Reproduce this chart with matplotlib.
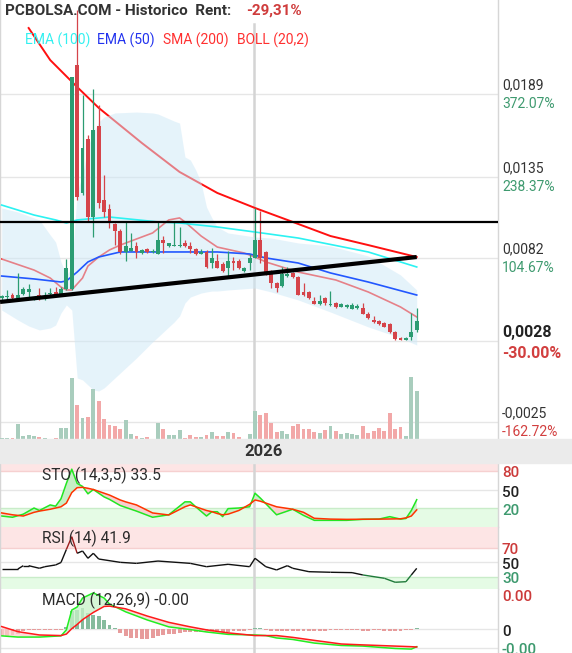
import numpy as np
import matplotlib
matplotlib.use('Agg')
import matplotlib.pyplot as plt
from matplotlib.collections import LineCollection
from matplotlib.patches import Rectangle

plt.rcParams['font.family'] = ['Roboto', 'DejaVu Sans']

# ---------------- price candles (one per session) ----------------
opens = np.array([0.00561, 0.00567, 0.00580, 0.00561, 0.00587, 0.00600, 0.00561, 0.00580, 0.00567, 0.00587,
                  0.00600, 0.00587, 0.00619, 0.00619, 0.02081, 0.01246, 0.01598, 0.01089, 0.01683, 0.01200,
                  0.01141, 0.01043, 0.00998, 0.00861, 0.00867, 0.00900, 0.00854, 0.00880, 0.00861, 0.00848,
                  0.00939, 0.00900, 0.00900, 0.00900, 0.00920, 0.00900, 0.00880, 0.00848, 0.00861, 0.00789,
                  0.00802, 0.00783, 0.00756, 0.00802, 0.00802, 0.00737, 0.00789, 0.00822, 0.00939, 0.00861,
                  0.00737, 0.00659, 0.00639, 0.00704, 0.00724, 0.00698, 0.00600, 0.00600, 0.00541, 0.00522,
                  0.00561, 0.00515, 0.00528, 0.00502, 0.00502, 0.00489, 0.00495, 0.00495, 0.00456, 0.00417,
                  0.00411, 0.00398, 0.00391, 0.00339, 0.00300, 0.00287, 0.00306, 0.00352])
highs = np.array([0.00580, 0.00613, 0.00593, 0.00724, 0.00632, 0.00652, 0.00567, 0.00626, 0.00600, 0.00626,
                  0.00632, 0.00632, 0.00815, 0.02003, 0.02440, 0.01885, 0.01624, 0.01924, 0.01820, 0.01363,
                  0.01174, 0.01050, 0.01011, 0.01057, 0.00985, 0.00926, 0.00880, 0.00887, 0.00880, 0.01057,
                  0.00965, 0.00920, 0.01057, 0.01024, 0.00939, 0.00926, 0.00887, 0.00880, 0.00874, 0.00887,
                  0.00848, 0.00796, 0.00867, 0.00828, 0.00815, 0.00763, 0.00848, 0.01148, 0.01128, 0.00867,
                  0.00743, 0.00665, 0.00763, 0.00763, 0.00730, 0.00704, 0.00659, 0.00606, 0.00567, 0.00580,
                  0.00567, 0.00606, 0.00535, 0.00528, 0.00522, 0.00528, 0.00522, 0.00528, 0.00469, 0.00443,
                  0.00417, 0.00404, 0.00398, 0.00345, 0.00306, 0.00306, 0.00463, 0.00495])
lows = np.array([0.00548, 0.00535, 0.00548, 0.00548, 0.00580, 0.00567, 0.00548, 0.00548, 0.00548, 0.00574,
                 0.00574, 0.00587, 0.00613, 0.00613, 0.01200, 0.01233, 0.01057, 0.00959, 0.01148, 0.01089,
                 0.01017, 0.00906, 0.00848, 0.00802, 0.00867, 0.00822, 0.00848, 0.00854, 0.00854, 0.00848,
                 0.00854, 0.00893, 0.00900, 0.00893, 0.00893, 0.00854, 0.00841, 0.00848, 0.00756, 0.00756,
                 0.00756, 0.00730, 0.00698, 0.00743, 0.00750, 0.00730, 0.00743, 0.00822, 0.00789, 0.00711,
                 0.00626, 0.00600, 0.00632, 0.00698, 0.00691, 0.00580, 0.00574, 0.00554, 0.00522, 0.00515,
                 0.00515, 0.00509, 0.00495, 0.00502, 0.00495, 0.00489, 0.00489, 0.00456, 0.00424, 0.00398,
                 0.00385, 0.00372, 0.00332, 0.00287, 0.00287, 0.00287, 0.00287, 0.00339])
closes = np.array([0.00574, 0.00574, 0.00561, 0.00580, 0.00619, 0.00619, 0.00567, 0.00561, 0.00574, 0.00593,
                   0.00587, 0.00619, 0.00756, 0.02003, 0.01220, 0.01539, 0.01089, 0.01657, 0.01180, 0.01122,
                   0.01057, 0.00998, 0.00861, 0.00900, 0.00887, 0.00861, 0.00874, 0.00861, 0.00867, 0.00939,
                   0.00920, 0.00920, 0.00906, 0.00906, 0.00900, 0.00880, 0.00848, 0.00861, 0.00763, 0.00822,
                   0.00756, 0.00737, 0.00802, 0.00789, 0.00756, 0.00756, 0.00822, 0.00939, 0.00822, 0.00724,
                   0.00659, 0.00626, 0.00717, 0.00717, 0.00698, 0.00580, 0.00580, 0.00561, 0.00522, 0.00541,
                   0.00528, 0.00522, 0.00502, 0.00522, 0.00515, 0.00515, 0.00509, 0.00456, 0.00430, 0.00404,
                   0.00391, 0.00372, 0.00339, 0.00293, 0.00287, 0.00300, 0.00339, 0.00411])
volume = np.array([2, 3, 3, 45, 9, 12, 9, 6, 3, 1,
                   3, 33, 33, 184, 102, 63, 66, 150, 114, 60,
                   42, 39, 30, 57, 15, 9, 3, 6, 0, 48,
                   30, 12, 12, 27, 3, 12, 6, 6, 12, 21,
                   9, 9, 21, 18, 6, 0, 15, 84, 72, 78,
                   48, 21, 24, 15, 39, 45, 30, 30, 21, 18,
                   27, 39, 24, 15, 18, 15, 12, 39, 18, 24,
                   33, 24, 78, 30, 36, 9, 186, 144])
year_start = 46.8          # first session of 2026
year_label = '2026'

# ---------------- overlays ----------------
sma200_idx = [5, 9, 14, 18, 26, 33, 40, 47, 53, 61, 68, 77]
sma200 = [0.02322, 0.02113, 0.01937, 0.01801, 0.01572, 0.01383, 0.01246, 0.01148, 0.01070, 0.00965, 0.00906, 0.00828]

ema100_idx = [0, 6, 10, 12, 14, 20, 29, 33, 40, 47, 55, 68, 77]
ema100 = [0.01167, 0.01102, 0.01070, 0.01050, 0.01070, 0.01089, 0.01057, 0.01050, 0.01024, 0.00991, 0.00952, 0.00861, 0.00763]

ema50_idx = [0, 6, 11, 12, 14, 16, 18, 22, 31, 40, 46, 49, 55, 61, 68, 77]
ema50 = [0.00704, 0.00685, 0.00665, 0.00672, 0.00730, 0.00796, 0.00828, 0.00861, 0.00861, 0.00861, 0.00848, 0.00822,
         0.00789, 0.00724, 0.00665, 0.00580]

boll_mid_idx = [0, 6, 9, 11, 12, 13, 15, 16, 18, 20, 22, 28, 31, 33, 34, 37, 40, 45, 47, 49, 55, 62, 68, 74, 77]
boll_mid = [0.00815, 0.00743, 0.00691, 0.00632, 0.00613, 0.00613, 0.00691, 0.00769, 0.00828, 0.00874, 0.00906, 0.00985,
            0.01070, 0.01083, 0.01057, 0.00965, 0.00893, 0.00854, 0.00828, 0.00796, 0.00730, 0.00678, 0.00600, 0.00502, 0.00437]

band_idx = [0, 3, 5, 7, 9, 10, 11, 12, 13, 14, 15, 16, 17, 18, 19, 21, 25, 28, 29, 32, 33, 34, 35, 36, 37, 38,
            39, 40, 42, 47, 50, 55, 61, 68, 74, 77]
band_upper = [0.01148, 0.01122, 0.01096, 0.01070, 0.00972, 0.00926, 0.00796, 0.00711, 0.00756, 0.01252, 0.01363,
              0.01546, 0.01644, 0.01709, 0.01742, 0.01768, 0.01774, 0.01768, 0.01761, 0.01715, 0.01702, 0.01481,
              0.01461, 0.01396, 0.01311, 0.01154, 0.01083, 0.01024, 0.00985, 0.00959, 0.00952, 0.00920, 0.00900,
              0.00835, 0.00711, 0.00613]
band_lower = [0.00482, 0.00417, 0.00378, 0.00352, 0.00365, 0.00384, 0.00463, 0.00515, 0.00482, 0.00039, 0.00026,
              -0.00007, -0.00039, -0.00046, -0.00026, 0.00039, 0.00169, 0.00274, 0.00306, 0.00404, 0.00443, 0.00528,
              0.00567, 0.00580, 0.00593, 0.00600, 0.00606, 0.00606, 0.00613, 0.00626, 0.00600, 0.00548, 0.00469,
              0.00372, 0.00300, 0.00254]

# hand drawn trend lines
resistance = 0.01057
support_x = [-0.3, 77]
support_y = [0.00535, 0.00828]

# right scale
grid_prices = [0.0189, 0.0135, 0.0082, 0.0028, -0.0025]
grid_labels = ['0,0189', '0,0135', '0,0082', '0,0028', '-0,0025']
grid_pcts = ['372.07%', '238.37%', '104.67%', '-30.00%', '-162.72%']

# ---------------- oscillators ----------------
sto_idx = [0, 2, 4, 6, 7, 9, 10, 11, 12, 13, 14, 15, 16, 17, 19, 20, 22, 23, 25, 28, 31, 34, 35, 36, 38, 39, 40,
           41, 42, 44, 46, 47, 48, 50, 51, 54, 56, 58, 61, 64, 67, 70, 72, 74, 75, 76, 77]
sto_k = [7, 5, 10, 20, 16, 25, 23, 35, 60, 83, 60, 55, 43, 50, 38, 34, 24, 21, 15, 5, 9, 30, 30, 22, 7, 14, 14,
         6, 19, 20, 22, 44, 36, 18, 9, 18, 8, 0, 0, 0, 1.6, 2, 6, 2, 3, 16, 33.5]
sto_d = [12, 9, 7, 13, 15, 18, 20, 22, 28, 45, 53, 53.5, 52, 50, 44, 41, 33, 30, 25, 12, 8.7, 22, 25, 22, 16, 14,
         11, 9, 10, 16, 26, 33, 31, 25, 22, 18, 13, 3.3, 2, 1.6, 1.8, 2, 2.2, 2.5, 4, 7, 17]

rsi_idx = [0, 3, 4, 5, 7, 8, 10, 11, 12, 13, 14, 15, 16, 17, 18, 22, 25, 29, 35, 38, 42, 46, 47, 49, 51, 53, 54,
           57, 61, 65, 67, 71, 73, 75, 76, 77]
rsi = [41, 41, 45.6, 45.6, 42, 44.2, 46.6, 50, 68, 85.6, 62.7, 65.9, 55.8, 62.7, 54.8, 50.2, 48.8, 52, 48.8, 44.2,
       47.5, 44.2, 55.8, 44.2, 39.7, 45.6, 42, 37.3, 36.5, 36, 32.8, 28.2, 22.7, 23.5, 32.8, 41.9]

# MACD values in units of 1e-5
macd_idx = [0, 3, 7, 11, 12, 13, 14, 15, 17, 19, 20, 23, 27, 31, 35, 38, 42, 47, 49, 51, 54, 58, 63, 67, 73, 76, 77]
macd_line = [-23, -27, -27, -23, -3, 63, 73, 103, 120, 103, 83, 57, 30, 7, -2, -10, -18, -20, -22, -30, -35, -47,
             -55, -57, -65, -67, -59]
macd_signal = [8, -9, -20, -22, -17, 1, 15, 31, 55, 75, 76, 67, 43, 22, 7, -3, -13, -22, -22, -22, -28, -38, -50,
               -53, -57, -59, -60]
macd_hist = [-23, -23, -20, -17, -7, -5, -4, -4, -4, -4, -4, -3, 7, 59, 64, 70, 53, 48, 42, 31,
             14, 3, -13, -24, -30, -30, -32, -32, -30, -24, -19, -17, -16, -13, -11, -10, -10, -10, -11, -11,
             -10, -10, -9, -8, -7, -6, -4, 3, 2, -3, -6, -7, -7, -6, -6, -7, -8, -8, -7, -6,
             -6, -4, -4, -3, -3, -3, -4, -6, -6, -4, -4, -6, -7, -7, -6, -4, -2, 3]

# ---------------- styling ----------------
GREEN = '#2b9c72'
RED = '#d5444a'
GRID = '#e6e6e6'
AXLINE = '#d6d6d6'
W, H = 572, 653
XLIM = (-0.315, 92.08)


def box(top, bottom, left=0, right=498):
    return [left / W, 1 - bottom / H, (right - left) / W, (bottom - top) / H]


def clean(axis):
    axis.set_xlim(*XLIM)
    axis.set_xticks([])
    axis.set_yticks([])
    for side in ('top', 'bottom'):
        axis.spines[side].set_visible(False)
    for side in ('left', 'right'):
        axis.spines[side].set_color(AXLINE)
        axis.spines[side].set_linewidth(1.0)


def right_label(axis, y, text, color, size=10, weight='normal', dy=0, va='baseline'):
    axis.annotate(text, xy=(1, y), xycoords=axis.get_yaxis_transform(), xytext=(4, dy),
                  textcoords='offset pixels', color=color, fontsize=size, fontweight=weight,
                  va=va, ha='left', annotation_clip=False)


fig = plt.figure(figsize=(W / 100, H / 100), dpi=100)
fig.patch.set_facecolor('white')

# ---------------- main price panel ----------------
ax = fig.add_axes(box(0, 439))
clean(ax)
ax.set_ylim(-0.003592, 0.025048)
idx = np.arange(len(closes))
up = closes >= opens
col = np.where(up, GREEN, RED)

for p in grid_prices:
    ax.axhline(p, color=GRID, lw=1, zorder=0)
ax.axvline(year_start, ymax=1 - 24 / 439, color='#d4d4d4', lw=1.8, zorder=0.5)

ax.plot(sma200_idx, sma200, color='#ff1010', lw=1.4, zorder=1)
ax.plot(boll_mid_idx, boll_mid, color='#ff1a1a', lw=1.2, zorder=1)
ax.fill_between(band_idx, band_lower, band_upper, color='#cde8f7', alpha=0.5, lw=0, zorder=2)
ax.plot(ema100_idx, ema100, color='#2cf2f2', lw=1.2, zorder=3)
ax.plot(ema50_idx, ema50, color='#2257ff', lw=1.2, zorder=3)

ax.vlines(idx, lows, highs, colors=col, lw=0.9, zorder=4)
body_lo = np.minimum(opens, closes)
body_h = np.maximum(np.abs(closes - opens), 0.00006)
ax.bar(idx, body_h, bottom=body_lo, width=0.72, color=col, lw=0, zorder=4)

ax.axhline(resistance, color='black', lw=1.6, zorder=5)
ax.plot(support_x, support_y, color='black', lw=3.0, solid_capstyle='butt', zorder=5)

for p, lab, pct in zip(grid_prices, grid_labels, grid_pcts):
    strong = lab == '0,0028'
    pct_col = '#d23f3f' if pct.startswith('-') else '#3e9a6f'
    if strong:
        right_label(ax, p, lab, '#222222', size=11.5, weight='bold', dy=4)
        right_label(ax, p, pct, pct_col, size=11.5, weight='bold', dy=-17)
    else:
        right_label(ax, p, lab, '#333333', size=10, dy=5)
        right_label(ax, p, pct, pct_col, size=10, dy=-14)

axv = ax.twinx()
axv.set_xlim(*XLIM)
axv.set_ylim(0, 1317)
axv.bar(idx, volume, width=0.72, color=np.where(up, '#a9cdbd', '#f2a8a8'), lw=0)
axv.axis('off')

# header
fig.text(5 / W, 1 - 11 / H, 'PCBOLSA.COM - Historico  Rent:', fontsize=11, fontweight='bold',
         color='#333333', va='center')
fig.text(246 / W, 1 - 11 / H, '-29,31%', fontsize=11, fontweight='bold', color='#cf3c3c', va='center')
for x, txt, c in [(25, 'EMA (100)', '#33f0f0'), (97, 'EMA (50)', '#2233ee'),
                  (163, 'SMA (200)', '#ff3030'), (237, 'BOLL (20,2)', '#ff3030')]:
    fig.text(x / W, 1 - 40 / H, txt, fontsize=10, color=c, va='center')

# date strip
fig.patches.append(Rectangle((0, 1 - 463 / H), 1, 24 / H, transform=fig.transFigure,
                             color='#ebebeb', zorder=0))
fig.text((1.7 + 5.39 * 48.5) / W, 1 - 451 / H, year_label, fontsize=12, fontweight='bold',
         color='#333333', ha='center', va='center')

# ---------------- stochastic ----------------
axs = fig.add_axes(box(463, 527))
clean(axs)
axs.set_ylim(-10.8, 93)
axs.axhspan(80, 93, color='#fde5e5', lw=0, zorder=0)
axs.axhspan(-10.8, 20, color='#e5fbe5', lw=0, zorder=0)
axs.axhline(80, color='#f6d0d0', lw=1, zorder=0.2)
axs.axhline(50, color=GRID, lw=1, zorder=0.2)
axs.axhline(20, color='#c9ecc9', lw=1, zorder=0.2)
axs.axvline(year_start, color='#d4d4d4', lw=1.8, zorder=0.5)
k = np.array(sto_k)
d = np.array(sto_d)
axs.fill_between(sto_idx, k, d, where=k >= d, interpolate=True, color='#c6efc6', lw=0, zorder=1)
axs.fill_between(sto_idx, k, d, where=k < d, interpolate=True, color='#f7cfcf', lw=0, zorder=1)
axs.plot(sto_idx, k, color='#22e622', lw=1.1, zorder=2)
axs.plot(sto_idx, d, color='#ff3300', lw=1.1, zorder=3)
right_label(axs, 80, '80', '#cc3b3b', size=11, weight='medium', dy=-2, va='center')
right_label(axs, 50, '50', '#222222', size=11, weight='medium', dy=-3, va='center')
right_label(axs, 20, '20', '#3e9a6f', size=11, weight='medium', dy=-3, va='center')
fig.text(42 / W, 1 - 475 / H, 'STO (14,3,5) 33.5', fontsize=11.2, color='#2b2b2b', va='center')

# ---------------- RSI ----------------
axr = fig.add_axes(box(527, 589))
clean(axr)
axr.set_ylim(13.4, 99)
axr.axhspan(70, 99, color='#fde5e5', lw=0, zorder=0)
axr.axhspan(13.4, 30, color='#e5fbe5', lw=0, zorder=0)
axr.axhline(70, color='#f6d0d0', lw=1, zorder=0.2)
axr.axhline(50, color=GRID, lw=1, zorder=0.2)
axr.axhline(30, color='#c9ecc9', lw=1, zorder=0.2)
axr.axvline(year_start, color='#d4d4d4', lw=1.8, zorder=0.5)
rv = np.array(rsi, dtype=float)
pts = np.column_stack([rsi_idx, rv])
segs = np.stack([pts[:-1], pts[1:]], axis=1)
mid = (rv[:-1] + rv[1:]) / 2
seg_col = np.where(mid > 70, '#9b1c1c', np.where(mid < 34, '#1f7a3a', '#111111'))
axr.add_collection(LineCollection(segs, colors=seg_col, linewidths=1.0, zorder=2))
right_label(axr, 70, '70', '#cc3b3b', size=11, weight='medium', dy=-2, va='center')
right_label(axr, 50, '50', '#222222', size=11, weight='medium', dy=-3, va='center')
right_label(axr, 30, '30', '#3e9a6f', size=11, weight='medium', dy=-2, va='center')
fig.text(42 / W, 1 - 538 / H, 'RSI (14) 41.9', fontsize=11.2, color='#2b2b2b', va='center')

# ---------------- MACD ----------------
axm = fig.add_axes(box(589, 653))
clean(axm)
axm.set_ylim(-80, 133)
axm.axhline(0, color=GRID, lw=1, zorder=0.2)
axm.axhline(-63, color=GRID, lw=1, zorder=0.2)
axm.axvline(year_start, color='#d4d4d4', lw=1.8, zorder=0.5)
hv = np.array(macd_hist)
axm.bar(idx, hv, width=0.72, color=np.where(hv >= 0, '#86bb9d', '#e79c9c'), lw=0, zorder=1)
ml = np.array(macd_line)
sl = np.array(macd_signal)
axm.fill_between(macd_idx, ml, sl, where=ml >= sl, interpolate=True, color='#c8f2c8', alpha=0.75, lw=0, zorder=1.5)
axm.fill_between(macd_idx, ml, sl, where=ml < sl, interpolate=True, color='#fbcfcf', alpha=0.75, lw=0, zorder=1.5)
axm.plot(macd_idx, ml, color='#22ee22', lw=1.1, zorder=2)
axm.plot(macd_idx, sl, color='#ff1a1a', lw=1.1, zorder=3)
right_label(axm, 107, '0.00', '#cc3b3b', size=11, weight='medium', va='center')
right_label(axm, 0, '0', '#222222', size=11, weight='medium', dy=-3, va='center')
right_label(axm, -70, '-0.00', '#3e9a6f', size=11, weight='medium', va='center')
fig.text(42 / W, 1 - 600 / H, 'MACD (12,26,9) -0.00', fontsize=11.2, color='#2b2b2b', va='center')

fig.savefig('out.png', dpi=100)
